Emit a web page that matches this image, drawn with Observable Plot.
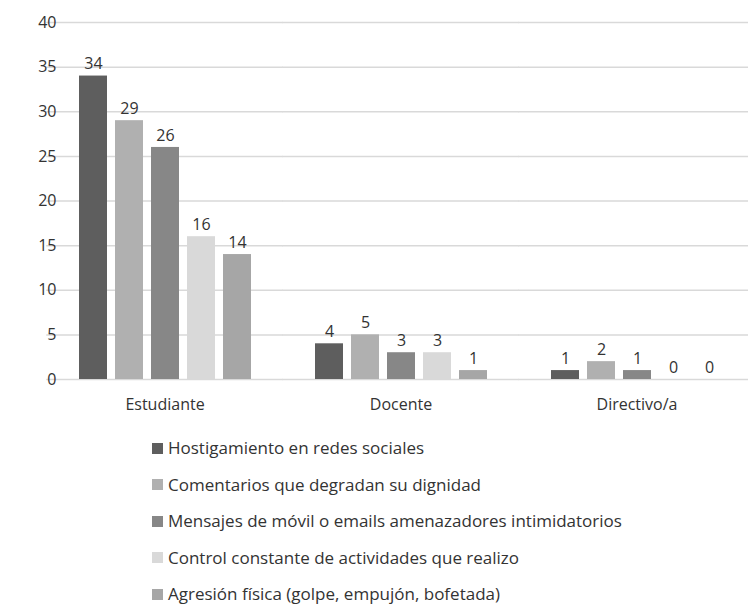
<!DOCTYPE html>
<html>
<head>
<meta charset="utf-8">
<script src="https://cdn.jsdelivr.net/npm/d3@7"></script>
<script src="https://cdn.jsdelivr.net/npm/@observablehq/plot@0.6"></script>
<style>
  html, body { margin: 0; padding: 0; background: #fff; }
  body { width: 748px; font-family: "Open Sans", sans-serif; }
  #legend { padding-top: 10px; padding-left: 152px; }
  .row { display: flex; align-items: center; height: 36.5px; line-height: 20px; font-size: 17px; color: #333; }
  .sw { width: 11px; height: 11px; margin-right: 5px; flex: none; }
</style>
</head>
<body>
<div id="chart"></div>
<div id="legend"></div>
<script>
const groups = ["Estudiante", "Docente", "Directivo/a"];
const series = [
  "Hostigamiento en redes sociales",
  "Comentarios que degradan su dignidad",
  "Mensajes de móvil o emails amenazadores intimidatorios",
  "Control constante de actividades que realizo",
  "Agresión física (golpe, empujón, bofetada)"
];
const colors = ["#5e5e5e", "#b0b0b0", "#878787", "#d9d9d9", "#a6a6a6"];
const valuesEstudiante = [34, 29, 26, 16, 14];
const valuesDocente = [4, 5, 3, 3, 1];
const valuesDirectivo = [1, 2, 1, 0, 0];
const yTicks = [0, 5, 10, 15, 20, 25, 30, 35, 40];

const valueLists = [valuesEstudiante, valuesDocente, valuesDirectivo];
const data = [];
groups.forEach((g, gi) => {
  series.forEach((s, si) => data.push({group: g, series: s, value: valueLists[gi][si]}));
});

const chart = Plot.plot({
  width: 748,
  height: 420,
  marginTop: 22,
  marginBottom: 41,
  marginLeft: 46,
  marginRight: 0,
  style: {fontFamily: "'Open Sans', sans-serif", fontSize: "16px", color: "#333", background: "#fff", overflow: "hidden"},
  fx: {domain: groups, range: [46, 755], paddingInner: 0.235, paddingOuter: 0.1175, label: null},
  x: {domain: series, paddingInner: 0.227, paddingOuter: 0.1135, axis: null},
  y: {domain: [0, 40], ticks: yTicks, label: null},
  color: {domain: series, range: colors},
  marks: [
    Plot.ruleY(yTicks, {y: d => d, stroke: "#d9d9d9", strokeWidth: 1.5, insetLeft: -27.8, insetRight: -27.8}),
    Plot.axisY({ticks: yTicks, tickSize: 0, tickPadding: 18, label: null, fontSize: 16, fill: "#333"}),
    Plot.axisFx({anchor: "bottom", tickSize: 0, tickPadding: 19, label: null, fontSize: 16, fill: "#333"}),
    Plot.barY(data, {fx: "group", x: "series", y: "value", fill: "series"}),
    Plot.text(data, {fx: "group", x: "series", y: "value", text: d => String(d.value), dy: -12, fontSize: 16, fill: "#333"})
  ]
});
document.getElementById("chart").appendChild(chart);

const legend = document.getElementById("legend");
series.forEach((s, i) => {
  const row = document.createElement("div");
  row.className = "row";
  const sw = document.createElement("span");
  sw.className = "sw";
  sw.style.background = colors[i];
  const label = document.createElement("span");
  label.textContent = s;
  row.appendChild(sw);
  row.appendChild(label);
  legend.appendChild(row);
});
</script>
</body>
</html>
